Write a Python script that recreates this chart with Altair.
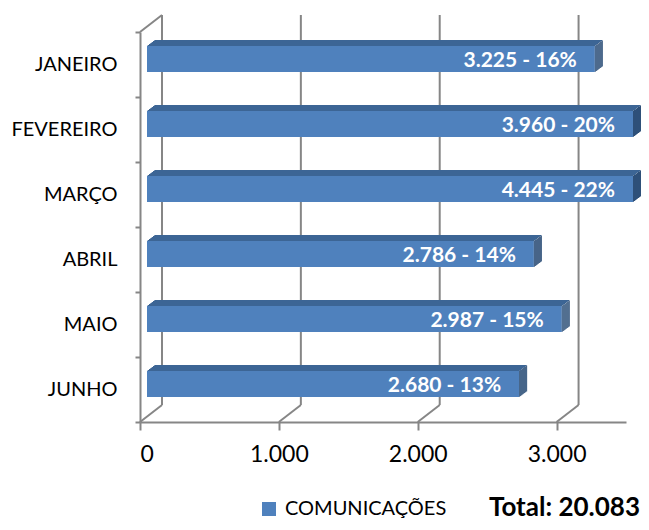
import altair as alt
import pandas as pd

months = ["JANEIRO", "FEVEREIRO", "MARÇO", "ABRIL", "MAIO", "JUNHO"]
values = [3225, 3960, 4445, 2786, 2987, 2680]
total = 20083
x_ticks = [0, 1000, 2000, 3000]
x_max = 3500
series_name = "COMUNICAÇÕES"


def fmt(n):
    return f"{n:,}".replace(",", ".")


labels = [f"{fmt(v)} - {round(v / total * 100)}%" for v in values]

df = pd.DataFrame({"month": months, "value": values, "label": labels,
                   "series": [series_name] * len(months)})
grid_df = pd.DataFrame({"tick": x_ticks})
total_df = pd.DataFrame({"t": [f"Total: {fmt(total)}"]})

FRONT = "#4F81BD"
TOP = "#3C6595"
SIDE = "#2E5079"
GRID = "#868686"
FONT = "Lato"
W, H = 486, 390
DX, DY = 22, 17

xscale = alt.Scale(domain=[0, x_max], nice=False, zero=True)
yscale = alt.Scale(domain=months, paddingInner=0, paddingOuter=0)

x_axis = alt.Axis(values=x_ticks, labelExpr="replace(format(datum.value, ','), ',', '.')",
                  grid=False, domainColor=GRID, domainWidth=2, tickColor=GRID, tickWidth=2,
                  tickSize=8, labelFont=FONT, labelFontSize=23, labelColor="black",
                  labelPadding=13, title=None)
y_axis = alt.Axis(grid=False, domainColor=GRID, domainWidth=2, tickColor=GRID, tickWidth=2,
                  tickSize=5, tickBand="extent", labelFont=FONT, labelFontSize=20,
                  labelColor="black", labelPadding=18, title=None)


def X(field):
    return alt.X(field, type="quantitative", scale=xscale, axis=x_axis)


def Y():
    return alt.Y("month:N", scale=yscale, sort=months, axis=y_axis)


base = alt.Chart(df).transform_calculate(shown=f"min(datum.value, {x_max})")

# back wall gridlines
back = alt.Chart(grid_df).mark_rule(color=GRID, strokeWidth=2, xOffset=DX).encode(
    x=X("tick"), y=alt.value(-DY), y2=alt.value(H - DY))
# floor diagonals
floor = alt.Chart(grid_df).mark_rule(color=GRID, strokeWidth=2, x2Offset=DX).encode(
    x=X("tick"), x2=alt.X2("tick"), y=alt.value(H), y2=alt.value(H - DY))
# left wall top diagonal
left_top = alt.Chart(grid_df.head(1)).mark_rule(color=GRID, strokeWidth=2, x2Offset=DX).encode(
    x=X("tick"), x2=alt.X2("tick"), y=alt.value(0), y2=alt.value(-DY))

front = base.mark_bar(size=26, yOffset=-5.5, xOffset=7, x2Offset=7).encode(
    x=X("shown"), x2=alt.datum(0), y=Y(),
    color=alt.Color("series:N", scale=alt.Scale(domain=[series_name], range=[FRONT]),
                    legend=alt.Legend(orient="none", legendX=119, legendY=467, title=None,
                                      symbolType="square", symbolSize=196, symbolStrokeWidth=0,
                                      labelFont=FONT, labelFontSize=20, labelColor="black",
                                      labelOffset=6, padding=0, labelLimit=400)))

tops = []
for k in range(6):
    off = 7 + (k + 0.5) * 8 / 6
    tops.append(base.mark_bar(size=1, yOffset=-19 - k, xOffset=off, x2Offset=off,
                              color=TOP).encode(x=X("shown"), x2=alt.datum(0), y=Y()))
sides = []
for j in range(8):
    sides.append(base.mark_bar(size=26, yOffset=-5.5 - (j + 0.5) * 0.75,
                               xOffset=7 + j, x2Offset=8 + j, color=SIDE).encode(
        x=X("shown"), x2=alt.X2("shown"), y=Y()))

text = base.mark_text(align="right", baseline="middle", dx=-11, dy=-3.5, font=FONT,
                      fontSize=21, fontWeight="bold", color="white").encode(
    x=X("shown"), y=Y(), text="label:N")

total_text = alt.Chart(total_df).mark_text(align="right", baseline="alphabetic", font=FONT,
                                           fontSize=26, fontWeight="bold", color="black").encode(
    x=alt.value(500), y=alt.value(484), text="t:N")

chart = alt.layer(back, floor, left_top, front, *tops, *sides, text, total_text).properties(
    width=W, height=H,
    autosize=alt.AutoSizeParams(type="none"),
    padding={"left": 132, "top": 24, "right": 15, "bottom": 100},
    background="white",
).configure_view(stroke=None)

chart.save("out.html", embed_options={"renderer": "svg", "actions": False})
